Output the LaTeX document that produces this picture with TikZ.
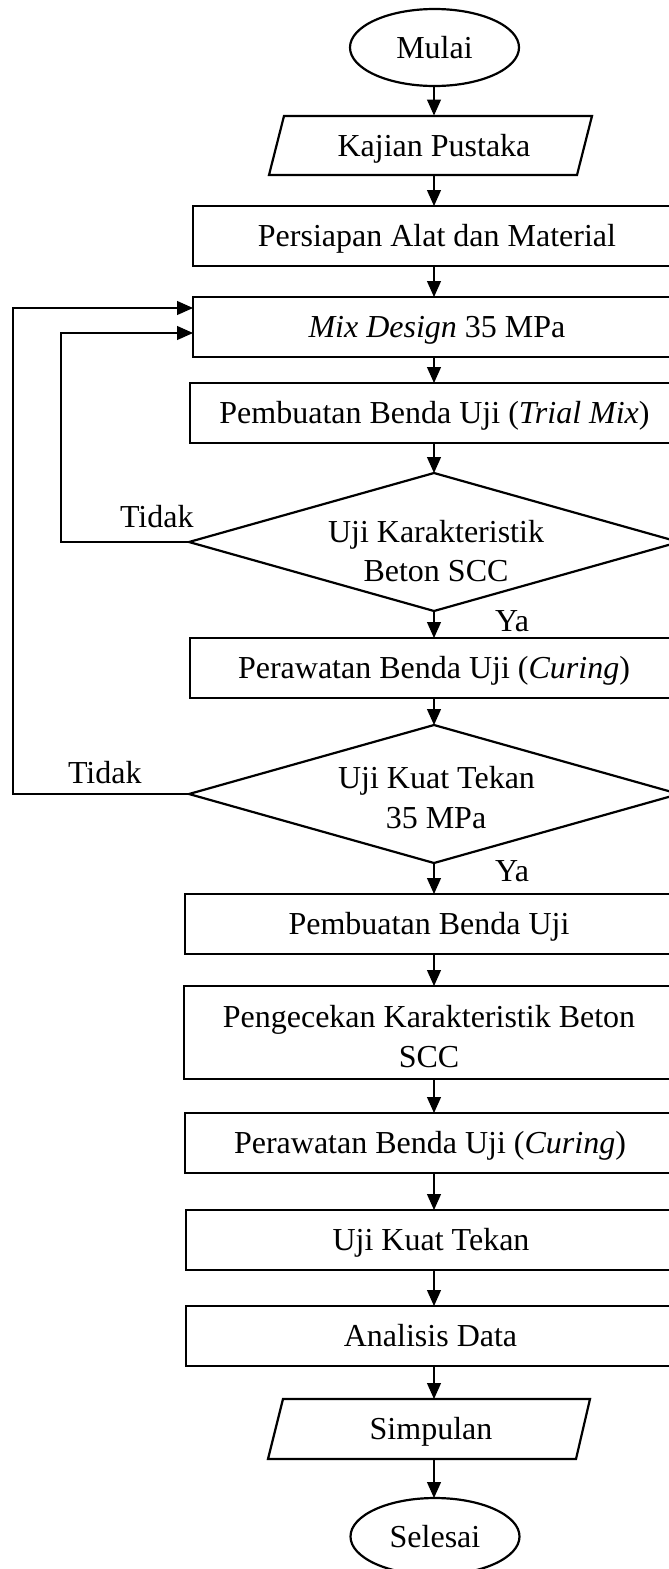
\documentclass[tikz,border=0pt]{standalone}
\usepackage{fontspec}
\setmainfont{Liberation Serif}
\usetikzlibrary{arrows.meta,shapes.geometric}
\begin{document}
\begin{tikzpicture}[x=1pt,y=-1pt,
  font=\fontsize{32}{39}\selectfont,
  every node/.style={inner sep=0pt, outer sep=0pt},
  box/.style={draw, line width=1.2pt, minimum height=60pt, text height=24pt, text depth=3pt},
  bigbox/.style={draw, line width=1.2pt},
  term/.style={ellipse, draw, line width=2.2pt, minimum width=169pt, minimum height=77pt, text height=24pt, text depth=3pt},
  shapeframe/.style={line width=2.2pt, line join=miter},
  frame/.style={minimum width=308pt, minimum height=60pt, text height=24pt, text depth=3pt},
  decframe/.style={minimum width=490pt, minimum height=138pt},
  conn/.style={line width=1.2pt, -{Triangle[length=16pt,width=14pt]}},
  lbl/.style={anchor=base west},
  line/.style={anchor=base}
]
\useasboundingbox (0,0) rectangle (669,1569);
\clip (0,0) rectangle (669,1569);
\coordinate (axis) at (434,0);

% nodes
\node[term] (mulai) at (434.5,47.5) {Mulai};
\node[frame] (kajian) at (434,145.5) {Kajian Pustaka};
\node[box, minimum width=488pt] (persiapan) at (437,236) {Persiapan Alat dan Material};
\node[box, minimum width=488pt] (mix) at (437,327) {\textit{Mix Design} 35 MPa};
\node[box, minimum width=489pt] (trial) at (434.5,413) {Pembuatan Benda Uji (\textit{Trial Mix})};
\node[decframe] (d1) at (434,542) {};
\node[line] (d1a) at (436,542) {Uji Karakteristik};
\node[line] (d1b) at (436,581) {Beton SCC};
\node[box, minimum width=488pt] (per1) at (434,668) {Perawatan Benda Uji (\textit{Curing})};
\node[decframe] (d2) at (434,794) {};
\node[line] (d2a) at (436.5,788) {Uji Kuat Tekan};
\node[line] (d2b) at (436,828) {35 MPa};
\node[box, minimum width=488pt] (pemb) at (429,924) {Pembuatan Benda Uji};
\node[bigbox, minimum width=490pt, minimum height=93pt] (peng) at (429,1032.5) {};
\node[line] (penga) at (429,1027) {Pengecekan Karakteristik Beton};
\node[line] (pengb) at (429,1067) {SCC};
\node[box, minimum width=490pt] (per2) at (430,1143) {Perawatan Benda Uji (\textit{Curing})};
\node[box, minimum width=490pt] (uji) at (431,1240) {Uji Kuat Tekan};
\node[box, minimum width=489pt] (anal) at (430.5,1336) {Analisis Data};
\node[frame] (simp) at (431,1429) {Simpulan};
\node[term] (selesai) at (435,1536.5) {Selesai};

% parallelograms
\draw[shapeframe] ([shift={(-150,-29.5)}]kajian.center) -- ([shift={(158,-29.5)}]kajian.center)
  -- ([shift={(143,29.5)}]kajian.center) -- ([shift={(-165,29.5)}]kajian.center) -- cycle;
\draw[shapeframe] ([shift={(-148,-30)}]simp.center) -- ([shift={(159,-30)}]simp.center)
  -- ([shift={(145,30)}]simp.center) -- ([shift={(-163,30)}]simp.center) -- cycle;
% diamonds
\draw[shapeframe] (d1.north) -- (d1.east) -- (d1.south) -- (d1.west) -- cycle;
\draw[shapeframe] (d2.north) -- (d2.east) -- (d2.south) -- (d2.west) -- cycle;

% labels
\node[lbl] (tidak1) at (120,527) {Tidak};
\node[lbl] (tidak2) at (68,783) {Tidak};
\node[lbl] (ya1) at (495,631) {Ya};
\node[lbl] (ya2) at (495,881) {Ya};

% connectors
\draw[conn] (mulai.south -| axis) -- (kajian.north -| axis);
\draw[conn] (kajian.south -| axis) -- (persiapan.north -| axis);
\draw[conn] (persiapan.south -| axis) -- (mix.north -| axis);
\draw[conn] (mix.south -| axis) -- (trial.north -| axis);
\draw[conn] (trial.south -| axis) -- (d1.north -| axis);
\draw[conn] (d1.south -| axis) -- (per1.north -| axis);
\draw[conn] (per1.south -| axis) -- (d2.north -| axis);
\draw[conn] (d2.south -| axis) -- (pemb.north -| axis);
\draw[conn] (pemb.south -| axis) -- (peng.north -| axis);
\draw[conn] (peng.south -| axis) -- (per2.north -| axis);
\draw[conn] (per2.south -| axis) -- (uji.north -| axis);
\draw[conn] (uji.south -| axis) -- (anal.north -| axis);
\draw[conn] (anal.south -| axis) -- (simp.north -| axis);
\draw[conn] (simp.south -| axis) -- (selesai.north -| axis);

% loops
\coordinate (outer) at (13,0);
\coordinate (inner) at (61,0);
\draw[conn] (d2.west) -- (d2.west -| outer) |- ([yshift=19pt]mix.west);
\draw[conn] (d1.west) -- (d1.west -| inner) |- ([yshift=-6pt]mix.west);
\end{tikzpicture}
\end{document}
